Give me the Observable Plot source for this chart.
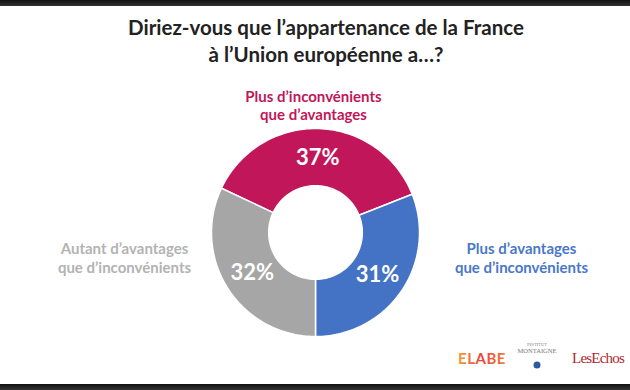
<!DOCTYPE html>
<html><head><meta charset="utf-8">
<script src="https://cdn.jsdelivr.net/npm/d3@7"></script>
<script src="https://cdn.jsdelivr.net/npm/@observablehq/plot@0.6"></script>
<style>
html,body{margin:0;padding:0;background:#fff;}
#wrap{position:relative;width:630px;height:390px;overflow:hidden;background:#fff;font-family:Lato,"Noto Sans",sans-serif;}
.bar{position:absolute;left:0;width:630px;background:linear-gradient(#111,#333);}
#title{position:absolute;top:14px;left:11px;width:630px;text-align:center;font-weight:700;font-size:20.5px;line-height:27px;color:#222;font-family:Lato,sans-serif;}
#chart{position:absolute;top:0;left:0;}
</style></head><body>
<div id="wrap">
<div class="bar" style="top:0;height:6px"></div>
<div class="bar" style="bottom:0;height:6px"></div>
<div id="title">Diriez-vous que l’appartenance de la France<br>à l’Union européenne a…?</div>
<div id="chart"></div>
</div>
<script>
const categories = ["Plus d'inconvénients que d'avantages", "Plus d'avantages que d'inconvénients", "Autant d'avantages que d'inconvénients"];
const values = [37, 31, 32];
const colors = ["#c1175a", "#4472c4", "#a6a6a6"];
const labelColors = ["#c1175a", "#4a78c8", "#b3b3b3"];
const labelLines = [["Plus d’inconvénients", "que d’avantages"], ["Plus d’avantages", "que d’inconvénients"], ["Autant d’avantages", "que d’inconvénients"]];

const inner = 0.45;
const startAngle = -64.8 * Math.PI / 180;
const pie = d3.pie().sort(null).value(d => d.value).startAngle(startAngle).endAngle(startAngle + 2 * Math.PI);
const data = categories.map((c, i) => ({category: c, value: values[i], color: colors[i]}));
const arcs = pie(data);

const pts = [];
arcs.forEach((a, i) => {
  const n = 80;
  const ring = [];
  for (let k = 0; k <= n; k++) {
    const t = a.startAngle + (a.endAngle - a.startAngle) * k / n;
    ring.push({slice: i, x: Math.sin(t), y: Math.cos(t)});
  }
  for (let k = n; k >= 0; k--) {
    const t = a.startAngle + (a.endAngle - a.startAngle) * k / n;
    ring.push({slice: i, x: inner * Math.sin(t), y: inner * Math.cos(t)});
  }
  ring.push({...ring[0]});
  pts.push(...ring);
});

const pctLabels = arcs.map((a, i) => {
  const m = (a.startAngle + a.endAngle) / 2;
  return {x: 0.72 * Math.sin(m), y: 0.72 * Math.cos(m), text: values[i] + "%"};
});

const cx = 315, cy = 232, R = 104;
const plot = Plot.plot({
  width: 630, height: 390,
  margin: 0,
  x: {domain: [-1, 1], range: [cx - R, cx + R], axis: null},
  y: {domain: [-1, 1], range: [cy + R, cy - R], axis: null},
  style: {background: "transparent", fontFamily: "Lato, sans-serif"},
  marks: [
    Plot.line(pts, {x: "x", y: "y", z: "slice", fill: d => colors[d.slice], stroke: "#fff", strokeWidth: 1.5, curve: "linear"}),
    Plot.text(pctLabels, {x: "x", y: "y", text: "text", fill: "#fff", fontSize: 22, fontWeight: 700}),
    // category labels
    Plot.text([0], {x: 0, y: 1, text: () => labelLines[0].join("\n"), dx: -2, dy: -9, lineAnchor: "bottom", fill: labelColors[0], fontSize: 15, fontWeight: 700, lineHeight: 1.2}),
    Plot.text([0], {x: 1, y: 0, text: () => labelLines[1].join("\n"), dx: 102, dy: 25, fill: labelColors[1], fontSize: 15, fontWeight: 700, lineHeight: 1.25}),
    Plot.text([0], {x: -1, y: 0, text: () => labelLines[2].join("\n"), dx: -87, dy: 25, fill: labelColors[2], fontSize: 15, fontWeight: 700, lineHeight: 1.25})
  ]
});
document.getElementById("chart").appendChild(plot);

// logos (text)
const svg = d3.select(plot);
const g = svg.append("g");
const grad = svg.append("defs").append("linearGradient").attr("id", "elabe").attr("x1", "0").attr("x2", "1");
grad.append("stop").attr("offset", "0").attr("stop-color", "#f0a030");
grad.append("stop").attr("offset", "0.5").attr("stop-color", "#e84040");
grad.append("stop").attr("offset", "1").attr("stop-color", "#f08030");
g.append("text").attr("x", 482).attr("y", 364).attr("text-anchor", "middle").attr("font-family", "Lato, sans-serif").attr("font-size", 15).attr("font-weight", 700).attr("letter-spacing", 0.5).attr("fill", "url(#elabe)").text("ELABE");
g.append("text").attr("x", 537).attr("y", 346).attr("text-anchor", "middle").attr("font-family", "Liberation Serif, serif").attr("font-size", 4.5).attr("fill", "#888").text("INSTITUT");
g.append("text").attr("x", 537).attr("y", 353).attr("text-anchor", "middle").attr("font-family", "Liberation Serif, serif").attr("font-size", 6.5).attr("fill", "#777").text("MONTAIGNE");
g.append("circle").attr("cx", 537).attr("cy", 365).attr("r", 3.5).attr("fill", "#2a5aa0");
g.append("text").attr("x", 598).attr("y", 363).attr("text-anchor", "middle").attr("font-family", "Liberation Serif, serif").attr("font-size", 15).attr("letter-spacing", -0.8).attr("fill", "#b3262e").text("LesEchos");
</script>
</body></html>
